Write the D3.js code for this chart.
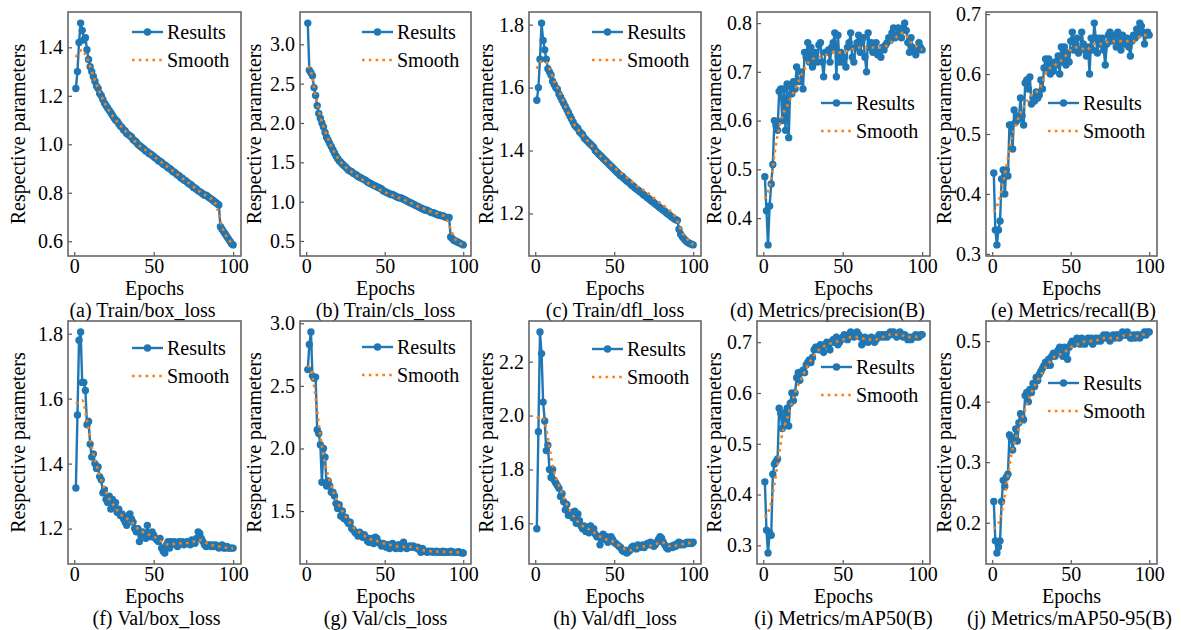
<!DOCTYPE html>
<html lang="en">
<head>
    <meta charset="UTF-8">
    <title>Training curves</title>
    <script src="https://d3js.org/d3.v7.min.js"></script>
    <style>
        body { margin: 0; background: #fff; }
        svg { display: block; font-family: "Liberation Serif", "Times New Roman", serif; }
        .tick text { font-family: "Liberation Serif", "Times New Roman", serif; font-size: 20px; fill: #000; }
        .tick line { stroke: #555; stroke-width: 1.2; }
        .frame { fill: none; stroke: #666; stroke-width: 1.6; }
        .results { fill: none; stroke: #1f77b4; stroke-width: 2.4; }
        .dot { fill: #1f77b4; }
        .smooth { fill: none; stroke: #ff7f0e; stroke-width: 2.6; stroke-dasharray: 2.6 4.2; }
        .label { font-size: 20px; fill: #000; }
    </style>
</head>
<body>
<svg id="chart" width="1181" height="630"></svg>
<script>
    // epochs 1..100
    const epochs = d3.range(1, 101);
    const xTicks = [0, 50, 100];

    const trainBoxLoss = [1.23, 1.30, 1.42, 1.50, 1.47, 1.43, 1.44, 1.39, 1.35, 1.32,
        1.30, 1.28, 1.26, 1.24, 1.23, 1.21, 1.20, 1.185, 1.17, 1.16,
        1.15, 1.14, 1.13, 1.12, 1.11, 1.10, 1.095, 1.085, 1.075, 1.07,
        1.06, 1.055, 1.045, 1.04, 1.035, 1.03, 1.02, 1.015, 1.01, 1.00,
        0.995, 0.99, 0.985, 0.98, 0.972, 0.97, 0.962, 0.96, 0.955, 0.95,
        0.944, 0.94, 0.932, 0.93, 0.925, 0.918, 0.915, 0.91, 0.903, 0.90,
        0.895, 0.888, 0.885, 0.88, 0.873, 0.87, 0.862, 0.86, 0.853, 0.85,
        0.845, 0.838, 0.835, 0.83, 0.822, 0.82, 0.815, 0.808, 0.805, 0.80,
        0.795, 0.79, 0.79, 0.785, 0.78, 0.775, 0.77, 0.765, 0.76, 0.755,
        0.75, 0.66, 0.65, 0.64, 0.63, 0.62, 0.61, 0.60, 0.59, 0.585];
    const trainClsLoss = [3.27, 2.67, 2.64, 2.60, 2.45, 2.35, 2.22, 2.12, 2.06, 2.00,
        1.95, 1.88, 1.82, 1.78, 1.74, 1.70, 1.66, 1.62, 1.58, 1.55,
        1.52, 1.50, 1.48, 1.46, 1.44, 1.42, 1.40, 1.39, 1.38, 1.36,
        1.35, 1.34, 1.32, 1.31, 1.30, 1.29, 1.28, 1.27, 1.25, 1.24,
        1.23, 1.22, 1.21, 1.20, 1.19, 1.18, 1.17, 1.16, 1.14, 1.13,
        1.12, 1.11, 1.10, 1.09, 1.09, 1.08, 1.07, 1.06, 1.05, 1.05,
        1.04, 1.03, 1.02, 1.01, 1.00, 0.99, 0.98, 0.97, 0.96, 0.95,
        0.94, 0.93, 0.92, 0.91, 0.90, 0.89, 0.89, 0.88, 0.87, 0.86,
        0.86, 0.85, 0.84, 0.83, 0.83, 0.82, 0.82, 0.81, 0.80, 0.80,
        0.80, 0.55, 0.53, 0.51, 0.50, 0.49, 0.48, 0.47, 0.46, 0.45];
    const trainDflLoss = [1.56, 1.60, 1.69, 1.805, 1.75, 1.72, 1.69, 1.66, 1.65, 1.64,
        1.62, 1.61, 1.60, 1.595, 1.58, 1.57, 1.56, 1.55, 1.54, 1.53,
        1.52, 1.51, 1.50, 1.49, 1.48, 1.475, 1.47, 1.46, 1.455, 1.45,
        1.44, 1.435, 1.43, 1.425, 1.42, 1.415, 1.41, 1.40, 1.395, 1.39,
        1.385, 1.38, 1.375, 1.37, 1.365, 1.36, 1.355, 1.35, 1.345, 1.34,
        1.335, 1.33, 1.325, 1.32, 1.318, 1.312, 1.308, 1.303, 1.30, 1.295,
        1.29, 1.287, 1.282, 1.278, 1.275, 1.27, 1.267, 1.262, 1.258, 1.255,
        1.25, 1.247, 1.242, 1.238, 1.235, 1.23, 1.227, 1.222, 1.218, 1.215,
        1.21, 1.207, 1.202, 1.198, 1.195, 1.19, 1.187, 1.183, 1.18, 1.178,
        1.15, 1.135, 1.127, 1.12, 1.115, 1.11, 1.107, 1.104, 1.102, 1.10];
    const precision = [0.485, 0.415, 0.345, 0.425, 0.47, 0.51, 0.60, 0.59, 0.58, 0.66,
        0.665, 0.60, 0.665, 0.58, 0.675, 0.565, 0.67, 0.655, 0.68, 0.665,
        0.71, 0.68, 0.68, 0.70, 0.665, 0.74, 0.73, 0.76, 0.72, 0.75,
        0.71, 0.73, 0.74, 0.72, 0.755, 0.76, 0.72, 0.69, 0.74, 0.74,
        0.745, 0.72, 0.75, 0.76, 0.78, 0.69, 0.775, 0.72, 0.74, 0.72,
        0.73, 0.71, 0.75, 0.76, 0.78, 0.73, 0.72, 0.75, 0.76, 0.775,
        0.74, 0.76, 0.77, 0.73, 0.70, 0.78, 0.75, 0.76, 0.74, 0.75,
        0.76, 0.735, 0.74, 0.73, 0.75, 0.745, 0.755, 0.76, 0.77, 0.765,
        0.78, 0.79, 0.77, 0.775, 0.79, 0.78, 0.77, 0.79, 0.80, 0.785,
        0.76, 0.74, 0.77, 0.75, 0.745, 0.735, 0.745, 0.76, 0.75, 0.745];
    const recall = [0.435, 0.34, 0.315, 0.34, 0.355, 0.425, 0.44, 0.40, 0.44, 0.43,
        0.515, 0.515, 0.475, 0.54, 0.52, 0.53, 0.525, 0.56, 0.53, 0.515,
        0.585, 0.59, 0.575, 0.595, 0.55, 0.56, 0.555, 0.57, 0.56, 0.565,
        0.59, 0.575, 0.61, 0.625, 0.61, 0.625, 0.60, 0.615, 0.605, 0.62,
        0.615, 0.63, 0.60, 0.645, 0.62, 0.645, 0.615, 0.635, 0.62, 0.655,
        0.67, 0.64, 0.65, 0.66, 0.635, 0.64, 0.67, 0.65, 0.64, 0.63,
        0.645, 0.60, 0.66, 0.64, 0.685, 0.66, 0.635, 0.66, 0.65, 0.66,
        0.64, 0.615, 0.65, 0.665, 0.67, 0.655, 0.66, 0.665, 0.645, 0.67,
        0.655, 0.64, 0.665, 0.65, 0.655, 0.66, 0.645, 0.63, 0.655, 0.665,
        0.66, 0.675, 0.665, 0.685, 0.68, 0.67, 0.65, 0.665, 0.67, 0.665];
    const valBoxLoss = [1.325, 1.55, 1.78, 1.805, 1.65, 1.65, 1.625, 1.52, 1.53, 1.46,
        1.42, 1.43, 1.40, 1.385, 1.39, 1.36, 1.35, 1.31, 1.32, 1.29,
        1.28, 1.30, 1.26, 1.29, 1.27, 1.28, 1.25, 1.26, 1.24, 1.245,
        1.23, 1.22, 1.21, 1.24, 1.245, 1.23, 1.22, 1.20, 1.19, 1.20,
        1.16, 1.18, 1.19, 1.18, 1.17, 1.21, 1.18, 1.175, 1.19, 1.18,
        1.17, 1.165, 1.16, 1.17, 1.14, 1.13, 1.125, 1.15, 1.16, 1.14,
        1.16, 1.155, 1.16, 1.15, 1.145, 1.16, 1.155, 1.16, 1.15, 1.155,
        1.16, 1.155, 1.15, 1.165, 1.16, 1.155, 1.17, 1.19, 1.185, 1.17,
        1.16, 1.15, 1.145, 1.15, 1.15, 1.145, 1.15, 1.145, 1.15, 1.145,
        1.14, 1.145, 1.15, 1.14, 1.14, 1.145, 1.14, 1.14, 1.14, 1.14];
    const valClsLoss = [2.63, 2.83, 2.93, 2.58, 2.56, 2.57, 2.15, 2.12, 2.03, 1.73,
        2.00, 1.93, 1.70, 1.74, 1.70, 1.65, 1.65, 1.62, 1.56, 1.52,
        1.55, 1.46, 1.50, 1.44, 1.45, 1.42, 1.40, 1.41, 1.36, 1.35,
        1.33, 1.32, 1.30, 1.33, 1.31, 1.29, 1.31, 1.29, 1.26, 1.25,
        1.28, 1.26, 1.24, 1.29, 1.28, 1.25, 1.24, 1.22, 1.24, 1.23,
        1.21, 1.23, 1.20, 1.22, 1.24, 1.21, 1.20, 1.22, 1.23, 1.20,
        1.22, 1.25, 1.22, 1.20, 1.215, 1.22, 1.21, 1.22, 1.21, 1.205,
        1.21, 1.19, 1.17, 1.20, 1.18, 1.18, 1.17, 1.18, 1.175, 1.18,
        1.17, 1.175, 1.18, 1.17, 1.175, 1.17, 1.18, 1.17, 1.175, 1.17,
        1.17, 1.18, 1.175, 1.17, 1.17, 1.17, 1.175, 1.17, 1.165, 1.165];
    const valDflLoss = [1.58, 1.94, 2.31, 2.23, 2.05, 1.98, 1.87, 1.89, 1.80, 1.77,
        1.80, 1.76, 1.75, 1.74, 1.73, 1.70, 1.71, 1.68, 1.65, 1.67,
        1.63, 1.63, 1.64, 1.62, 1.645, 1.60, 1.635, 1.61, 1.59, 1.58,
        1.59, 1.57, 1.58, 1.565, 1.59, 1.57, 1.58, 1.56, 1.55, 1.55,
        1.52, 1.55, 1.56, 1.54, 1.55, 1.53, 1.545, 1.55, 1.54, 1.53,
        1.525, 1.52, 1.515, 1.51, 1.50, 1.495, 1.50, 1.49, 1.495, 1.50,
        1.51, 1.515, 1.51, 1.505, 1.52, 1.51, 1.515, 1.52, 1.51, 1.52,
        1.525, 1.52, 1.53, 1.52, 1.515, 1.52, 1.53, 1.54, 1.55, 1.545,
        1.53, 1.52, 1.51, 1.505, 1.51, 1.515, 1.51, 1.52, 1.515, 1.525,
        1.53, 1.52, 1.525, 1.52, 1.525, 1.53, 1.525, 1.53, 1.525, 1.53];
    const mAP50 = [0.425, 0.33, 0.285, 0.325, 0.32, 0.44, 0.46, 0.465, 0.47, 0.57,
        0.56, 0.53, 0.56, 0.545, 0.57, 0.535, 0.58, 0.60, 0.585, 0.60,
        0.63, 0.64, 0.625, 0.64, 0.645, 0.64, 0.655, 0.66, 0.665, 0.66,
        0.67, 0.685, 0.69, 0.69, 0.685, 0.695, 0.69, 0.68, 0.695, 0.70,
        0.695, 0.685, 0.70, 0.705, 0.70, 0.71, 0.695, 0.70, 0.705, 0.71,
        0.715, 0.71, 0.705, 0.715, 0.72, 0.715, 0.71, 0.715, 0.72, 0.715,
        0.71, 0.695, 0.70, 0.71, 0.705, 0.70, 0.705, 0.71, 0.705, 0.70,
        0.705, 0.71, 0.715, 0.71, 0.715, 0.71, 0.715, 0.71, 0.715, 0.72,
        0.715, 0.72, 0.715, 0.71, 0.715, 0.72, 0.715, 0.71, 0.715, 0.71,
        0.705, 0.71, 0.705, 0.71, 0.71, 0.715, 0.71, 0.71, 0.715, 0.715];
    const mAP5095 = [0.235, 0.17, 0.15, 0.16, 0.17, 0.235, 0.27, 0.26, 0.275, 0.28,
        0.345, 0.34, 0.32, 0.34, 0.355, 0.335, 0.365, 0.38, 0.375, 0.37,
        0.41, 0.415, 0.40, 0.42, 0.415, 0.43, 0.425, 0.44, 0.435, 0.445,
        0.45, 0.455, 0.46, 0.465, 0.46, 0.47, 0.46, 0.475, 0.48, 0.475,
        0.48, 0.485, 0.49, 0.485, 0.475, 0.49, 0.48, 0.47, 0.49, 0.495,
        0.50, 0.495, 0.50, 0.505, 0.50, 0.495, 0.505, 0.50, 0.495, 0.50,
        0.505, 0.50, 0.505, 0.495, 0.50, 0.505, 0.50, 0.505, 0.50, 0.505,
        0.51, 0.505, 0.51, 0.505, 0.50, 0.505, 0.51, 0.505, 0.51, 0.51,
        0.505, 0.51, 0.515, 0.51, 0.51, 0.515, 0.51, 0.505, 0.505, 0.51,
        0.505, 0.51, 0.51, 0.505, 0.51, 0.51, 0.515, 0.51, 0.515, 0.515];

    // smoothed curves, read at these epochs
    const smoothEpochs = [1, 3, 5, 7, 9, 12, 15, 20, 25, 30, 35, 40, 45, 50, 55, 60, 65, 70, 75, 80, 85, 88, 90, 91, 93, 95, 98, 100];
    const trainBoxSmooth = [1.36, 1.38, 1.39, 1.37, 1.34, 1.28, 1.23, 1.16, 1.11, 1.07, 1.035, 1.00, 0.975, 0.95, 0.925, 0.90, 0.875, 0.85, 0.825, 0.80, 0.78, 0.765, 0.735, 0.71, 0.66, 0.63, 0.60, 0.59];
    const trainClsSmooth = [2.72, 2.66, 2.45, 2.25, 2.08, 1.90, 1.75, 1.56, 1.44, 1.36, 1.29, 1.23, 1.17, 1.12, 1.08, 1.04, 1.00, 0.95, 0.91, 0.87, 0.84, 0.81, 0.75, 0.70, 0.60, 0.52, 0.47, 0.45];
    const trainDflSmooth = [1.66, 1.68, 1.685, 1.68, 1.66, 1.62, 1.59, 1.53, 1.48, 1.45, 1.42, 1.39, 1.365, 1.345, 1.325, 1.305, 1.285, 1.27, 1.25, 1.23, 1.21, 1.195, 1.175, 1.165, 1.14, 1.125, 1.11, 1.10];
    const precisionSmooth = [0.44, 0.455, 0.48, 0.53, 0.57, 0.61, 0.63, 0.665, 0.70, 0.725, 0.73, 0.735, 0.74, 0.74, 0.745, 0.75, 0.75, 0.75, 0.75, 0.76, 0.775, 0.78, 0.775, 0.77, 0.76, 0.755, 0.75, 0.745];
    const recallSmooth = [0.37, 0.38, 0.395, 0.42, 0.445, 0.49, 0.515, 0.545, 0.565, 0.575, 0.605, 0.615, 0.625, 0.64, 0.645, 0.64, 0.65, 0.65, 0.655, 0.655, 0.655, 0.655, 0.655, 0.655, 0.66, 0.665, 0.665, 0.665];
    const valBoxSmooth = [1.585, 1.59, 1.595, 1.56, 1.50, 1.43, 1.38, 1.31, 1.27, 1.24, 1.225, 1.20, 1.185, 1.175, 1.16, 1.15, 1.155, 1.155, 1.16, 1.165, 1.15, 1.148, 1.145, 1.145, 1.145, 1.142, 1.14, 1.14];
    const valClsSmooth = [2.66, 2.63, 2.50, 2.30, 2.10, 1.88, 1.74, 1.57, 1.46, 1.37, 1.32, 1.28, 1.26, 1.24, 1.225, 1.215, 1.215, 1.205, 1.185, 1.178, 1.175, 1.174, 1.173, 1.173, 1.172, 1.17, 1.17, 1.168];
    const valDflSmooth = [1.99, 1.995, 1.99, 1.95, 1.88, 1.79, 1.74, 1.67, 1.62, 1.59, 1.575, 1.555, 1.54, 1.53, 1.51, 1.50, 1.51, 1.515, 1.52, 1.53, 1.515, 1.515, 1.52, 1.52, 1.522, 1.525, 1.527, 1.528];
    const mAP50Smooth = [0.355, 0.365, 0.385, 0.42, 0.46, 0.52, 0.55, 0.60, 0.635, 0.665, 0.685, 0.695, 0.70, 0.705, 0.71, 0.71, 0.705, 0.705, 0.71, 0.715, 0.715, 0.713, 0.71, 0.71, 0.71, 0.71, 0.712, 0.713];
    const mAP5095Smooth = [0.19, 0.195, 0.205, 0.23, 0.26, 0.31, 0.34, 0.38, 0.415, 0.44, 0.46, 0.475, 0.48, 0.49, 0.495, 0.50, 0.50, 0.505, 0.505, 0.505, 0.51, 0.51, 0.508, 0.508, 0.508, 0.51, 0.512, 0.513];

    const captions = ["(a) Train/box_loss", "(b) Train/cls_loss", "(c) Train/dfl_loss", "(d) Metrics/precision(B)", "(e) Metrics/recall(B)",
        "(f) Val/box_loss", "(g) Val/cls_loss", "(h) Val/dfl_loss", "(i) Metrics/mAP50(B)", "(j) Metrics/mAP50-95(B)"];
    const resultSeries = [trainBoxLoss, trainClsLoss, trainDflLoss, precision, recall, valBoxLoss, valClsLoss, valDflLoss, mAP50, mAP5095];
    const smoothSeries = [trainBoxSmooth, trainClsSmooth, trainDflSmooth, precisionSmooth, recallSmooth, valBoxSmooth, valClsSmooth, valDflSmooth, mAP50Smooth, mAP5095Smooth];
    const yTickValues = [
        [0.6, 0.8, 1.0, 1.2, 1.4], [0.5, 1.0, 1.5, 2.0, 2.5, 3.0], [1.2, 1.4, 1.6, 1.8], [0.4, 0.5, 0.6, 0.7, 0.8], [0.3, 0.4, 0.5, 0.6, 0.7],
        [1.2, 1.4, 1.6, 1.8], [1.5, 2.0, 2.5, 3.0], [1.6, 1.8, 2.0, 2.2], [0.3, 0.4, 0.5, 0.6, 0.7], [0.2, 0.3, 0.4, 0.5]];
    const legendNames = ["Results", "Smooth"];

    // layout
    const colLeft = [68, 300, 529, 757, 986];
    const colRight = [241, 471, 701, 930, 1157];
    const yLabelGap = [50, 46, 43, 43, 42];
    const rowTop = [12, 321];
    const rowBottom = [256, 564];
    const legendTop = [20, 20, 20, 91, 91, 27, 26, 28, 46, 62];
    const captionShift = [-12, 0, 0, -16, 2, 2, 0, 0, 0, -2];

    const svg = d3.select("#chart");

    resultSeries.forEach((values, i) => {
        const col = i % 5, row = Math.floor(i / 5);
        const left = colLeft[col], right = colRight[col];
        const top = rowTop[row], bottom = rowBottom[row];

        const xExt = d3.extent(epochs);
        const xPad = (xExt[1] - xExt[0]) * 0.05;
        const x = d3.scaleLinear().domain([xExt[0] - xPad, xExt[1] + xPad]).range([left, right]);
        const yExt = d3.extent(values);
        const yPad = (yExt[1] - yExt[0]) * 0.05;
        const y = d3.scaleLinear().domain([yExt[0] - yPad, yExt[1] + yPad]).range([bottom, top]);

        const g = svg.append("g");

        const line = d3.line().x((d, k) => x(epochs[k])).y(d => y(d));
        g.append("path").datum(values).attr("class", "results").attr("d", line);
        g.selectAll(".dot").data(values).join("circle")
            .attr("class", "dot")
            .attr("cx", (d, k) => x(epochs[k]))
            .attr("cy", d => y(d))
            .attr("r", 3.7);

        const smoothLine = d3.line()
            .x((d, k) => x(smoothEpochs[k]))
            .y(d => y(d))
            .curve(d3.curveMonotoneX);
        g.append("path").datum(smoothSeries[i]).attr("class", "smooth").attr("d", smoothLine);

        // axes, ticks point inward
        const yAxis = g.append("g")
            .attr("transform", `translate(${left},0)`)
            .call(d3.axisLeft(y).tickValues(yTickValues[i]).tickFormat(d3.format(".1f")).tickSize(-4).tickPadding(5));
        yAxis.attr("font-family", null).select(".domain").remove();

        const xAxis = g.append("g")
            .attr("transform", `translate(0,${bottom})`)
            .call(d3.axisBottom(x).tickValues(xTicks).tickSize(-4).tickPadding(2));
        xAxis.attr("font-family", null).select(".domain").remove();
        xAxis.selectAll(".tick text").attr("dy", "0.75em");

        g.append("rect").attr("class", "frame")
            .attr("x", left).attr("y", top)
            .attr("width", right - left).attr("height", bottom - top);

        // legend
        const ly = top + legendTop[i];
        const lx0 = right - 109, lx1 = right - 78;
        g.append("line").attr("x1", lx0).attr("x2", lx1).attr("y1", ly).attr("y2", ly)
            .attr("class", "results");
        g.append("circle").attr("class", "dot").attr("cx", (lx0 + lx1) / 2).attr("cy", ly).attr("r", 3.7);
        g.append("line").attr("x1", lx0).attr("x2", lx1).attr("y1", ly + 28).attr("y2", ly + 28)
            .attr("class", "smooth");
        legendNames.forEach((name, k) => {
            g.append("text").attr("class", "label")
                .attr("x", right - 74).attr("y", ly + k * 28)
                .attr("dominant-baseline", "central")
                .text(name);
        });

        // labels
        g.append("text").attr("class", "label")
            .attr("transform", `translate(${left - yLabelGap[col]},${(top + bottom) / 2}) rotate(-90)`)
            .attr("text-anchor", "middle")
            .attr("dominant-baseline", "central")
            .text("Respective parameters");
        g.append("text").attr("class", "label")
            .attr("x", (left + right) / 2).attr("y", bottom + 32)
            .attr("text-anchor", "middle")
            .attr("dominant-baseline", "central")
            .text("Epochs");
        g.append("text").attr("class", "label")
            .attr("x", (left + right) / 2 + captionShift[i]).attr("y", bottom + 54)
            .attr("text-anchor", "middle")
            .attr("dominant-baseline", "central")
            .text(captions[i]);
    });
</script>
</body>
</html>
